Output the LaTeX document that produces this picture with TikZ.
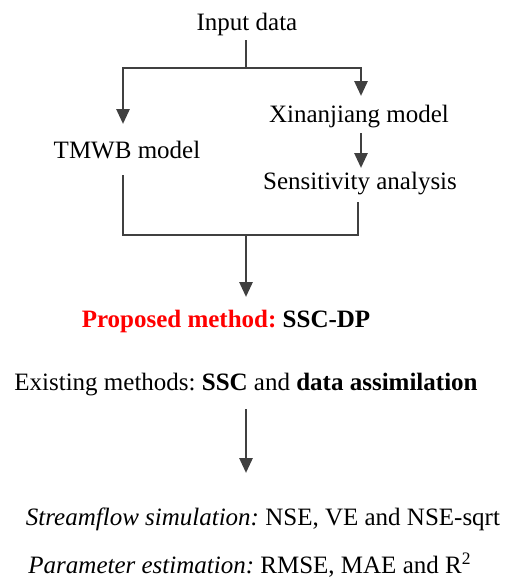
\documentclass[tikz,border=0pt]{standalone}
\usepackage{fontspec}
\setmainfont{Liberation Serif}
\usetikzlibrary{arrows.meta}
\definecolor{linegray}{HTML}{404040}
\definecolor{propred}{HTML}{FF0000}
\frenchspacing

\begin{document}
\begin{tikzpicture}[x=0.5pt,y=-0.5pt,
  txt/.style={anchor=base,inner sep=0pt,font=\fontsize{12.5}{14}\selectfont},
  link/.style={draw=linegray,line width=1.4pt},
  arr/.style={link,-{Triangle[width=6.5pt,length=7.5pt]}}]
\useasboundingbox (0,0) rectangle (507,578);
\node[txt] (input) at (247,30) {Input data};
\node[txt] (xaj) at (359,122) {Xinanjiang model};
\node[txt] (tmwb) at (127,158) {TMWB model};
\node[txt] (sens) at (360,189) {Sensitivity analysis};
\node[txt] (prop) at (226,327) {\textcolor{propred}{\textbf{Proposed method:}} \textbf{SSC-DP}};
\node[txt] (exist) at (246,390) {Existing methods: \textbf{SSC} and \textbf{data assimilation}};
\node[txt] (flow) at (263,525) {\textit{Streamflow simulation:} NSE, VE and NSE-sqrt};
\node[txt] (para) at (250,573) {\textit{Parameter estimation:} RMSE, MAE and R\textsuperscript{2}};
\coordinate (s1) at (246,40);
\coordinate (split) at (246,68);
\coordinate (tmwbin) at (123,124);
\coordinate (xajin) at (361,96);
\coordinate (xajout) at (361,133);
\coordinate (sensin) at (361,168);
\coordinate (tmwbout) at (123,175);
\coordinate (sensout) at (358,202);
\coordinate (join) at (246,235);
\coordinate (propin) at (246,297);
\coordinate (exout) at (246,409);
\coordinate (flowin) at (246,473);
\draw[link] (s1) -- (split);
\draw[arr] (split) -| (tmwbin);
\draw[arr] (split) -| (xajin);
\draw[arr] (xajout) -- (sensin);
\draw[link] (tmwbout) |- (join) -| (sensout);
\draw[arr] (join) -- (propin);
\draw[arr] (exout) -- (flowin);
\end{tikzpicture}
\end{document}
